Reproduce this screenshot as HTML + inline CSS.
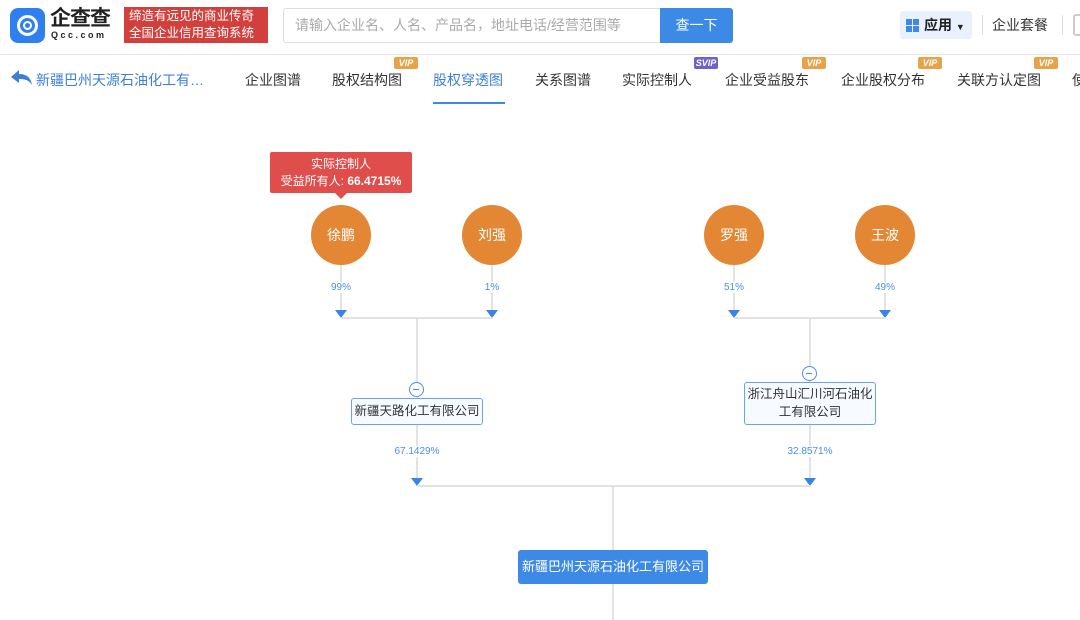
<!DOCTYPE html>
<html><head><meta charset="utf-8"><style>
*{margin:0;padding:0;box-sizing:border-box}
body{width:1080px;height:620px;overflow:hidden;background:#fff;font-family:"Liberation Sans","Noto Sans CJK SC",sans-serif;position:relative;color:#333}
.a{position:absolute}
.nav{position:absolute;top:70px;font-size:14px;color:#333;white-space:nowrap}
.vip{position:absolute;top:57px;width:24px;height:12px;background:#e8a34a;color:#fff;font-size:9px;font-weight:bold;font-style:italic;text-align:center;line-height:12px;border-radius:2px}
.c{position:absolute;width:60px;height:60px;border-radius:50%;background:#e38734;color:#fff;font-size:14px;text-align:center;line-height:60px}
.l{position:absolute;background:#e3e3e3}
.p{position:absolute;font-size:10px;color:#4a8ee8;width:80px;text-align:center}
.t{position:absolute;width:0;height:0;border-left:6px solid transparent;border-right:6px solid transparent;border-top:8px solid #3a85e4}
.m{position:absolute;width:15px;height:15px;border:1.5px solid #4a8ee8;border-radius:50%;background:#fff}
.m:after{content:"";position:absolute;left:3px;top:5.5px;width:6px;height:1.5px;background:#4a8ee8}
.b{position:absolute;border:1.5px solid #6aa3ee;border-radius:3px;background:#f7faff;font-size:12.5px;color:#333;text-align:center;white-space:nowrap}
</style></head><body>
<div class="a" style="left:10px;top:8px;width:35px;height:35px;border-radius:8px;background:#2f7ff0"></div>
<div class="a" style="left:17px;top:15px;width:21px;height:21px;border-radius:50%;border:3px solid #fff"></div>
<div class="a" style="left:23px;top:21px;width:9px;height:9px;border-radius:50%;border:2px solid #fff"></div>
<div class="a" style="left:50px;top:7px;font-size:21px;font-weight:bold;color:#222;letter-spacing:-1px;line-height:24px">企查查</div>
<div class="a" style="left:51px;top:30px;font-size:9px;font-weight:bold;color:#222;letter-spacing:2.5px;line-height:11px">Qcc.com</div>
<div class="a" style="left:124px;top:7px;width:144px;height:36px;background:#d2403e;color:#fff;font-size:12.5px;line-height:17px;padding-left:5px;padding-top:1px;white-space:nowrap">缔造有远见的商业传奇<br>全国企业信用查询系统</div>
<div class="a" style="left:283px;top:8px;width:380px;height:35px;border:1px solid #ddd;border-radius:3px;font-size:14px;color:#aaa;line-height:33px;padding-left:11px">请输入企业名、人名、产品名，地址电话/经营范围等</div>
<div class="a" style="left:660px;top:8px;width:73px;height:35px;background:#3d8ae6;border-radius:0 3px 3px 0;color:#fff;font-size:14px;text-align:center;line-height:35px">查一下</div>
<div class="a" style="left:900px;top:11px;width:72px;height:28px;background:#e8f1fd;border-radius:3px"></div>
<div class="a" style="left:906px;top:19px;width:13px;height:13px;background:linear-gradient(#e8f1fd,#e8f1fd) 6px 0/1px 13px no-repeat,linear-gradient(#e8f1fd,#e8f1fd) 0 6px/13px 1px no-repeat,#3d8ae6"></div>
<div class="a" style="left:924px;top:15px;font-size:14px;font-weight:bold;color:#222">应用 <span style="font-size:9px">▼</span></div>
<div class="a" style="left:982px;top:15px;width:1px;height:20px;background:#ddd"></div>
<div class="a" style="left:992px;top:15px;font-size:14px;color:#333">企业套餐</div>
<div class="a" style="left:1062px;top:15px;width:1px;height:20px;background:#ddd"></div>
<div class="a" style="left:1073px;top:14px;width:10px;height:22px;border:2px solid #ccc;border-radius:3px"></div>
<div class="a" style="left:0;top:54px;width:1080px;height:1px;background:#e6e6e6"></div>
<svg class="a" style="left:11px;top:70px" width="22" height="16" viewBox="0 0 22 16"><path d="M0 7 L8 0 L8 4 C16 4 20 8 21 15 C18 10 14 9 8 9 L8 13 Z" fill="#3d7fd8"/></svg>
<div class="nav" style="left:36px;color:#3d7fd8">新疆巴州天源石油化工有…</div>
<div class="nav" style="left:245px">企业图谱</div>
<div class="nav" style="left:332px">股权结构图</div><div class="vip" style="left:394px">VIP</div>
<div class="nav" style="left:433px;color:#3d7fd8">股权穿透图</div>
<div class="a" style="left:433px;top:102px;width:72px;height:2px;background:#3d8ae6"></div>
<div class="nav" style="left:535px">关系图谱</div>
<div class="nav" style="left:622px">实际控制人</div><div class="vip" style="left:694px;background:#6b63c9">SVIP</div>
<div class="nav" style="left:725px">企业受益股东</div><div class="vip" style="left:802px">VIP</div>
<div class="nav" style="left:841px">企业股权分布</div><div class="vip" style="left:918px">VIP</div>
<div class="nav" style="left:957px">关联方认定图</div><div class="vip" style="left:1034px">VIP</div>
<div class="nav" style="left:1072px">使</div>

<div class="a" style="left:270px;top:152px;width:142px;height:41px;background:#df4e4b;border-radius:2px;color:#fff;font-size:12px;text-align:center;line-height:17px;padding-top:4px;white-space:nowrap">实际控制人<br>受益所有人: <b>66.4715%</b></div>
<div class="a" style="left:335px;top:193px;border-left:6px solid transparent;border-right:6px solid transparent;border-top:6px solid #df4e4b"></div>

<div class="l" style="left:340px;top:265px;width:2px;height:48px"></div>
<div class="l" style="left:491px;top:265px;width:2px;height:48px"></div>
<div class="l" style="left:733px;top:265px;width:2px;height:48px"></div>
<div class="l" style="left:884px;top:265px;width:2px;height:48px"></div>
<div class="c" style="left:311px;top:205px">徐鹏</div>
<div class="c" style="left:462px;top:205px">刘强</div>
<div class="c" style="left:704px;top:205px">罗强</div>
<div class="c" style="left:855px;top:205px">王波</div>
<div class="p" style="left:301px;top:282px"><span style="background:#fff">99%</span></div>
<div class="p" style="left:452px;top:282px"><span style="background:#fff">1%</span></div>
<div class="p" style="left:694px;top:282px"><span style="background:#fff">51%</span></div>
<div class="p" style="left:845px;top:282px"><span style="background:#fff">49%</span></div>
<div class="t" style="left:335px;top:310px"></div>
<div class="t" style="left:486px;top:310px"></div>
<div class="t" style="left:728px;top:310px"></div>
<div class="t" style="left:879px;top:310px"></div>
<div class="l" style="left:341px;top:317px;width:152px;height:2px"></div>
<div class="l" style="left:734px;top:317px;width:152px;height:2px"></div>
<div class="l" style="left:416px;top:318px;width:2px;height:80px"></div>
<div class="l" style="left:809px;top:318px;width:2px;height:64px"></div>
<div class="m" style="left:409px;top:382px"></div>
<div class="m" style="left:802px;top:366px"></div>
<div class="b" style="left:351px;top:398px;width:132px;height:27px;line-height:24px">新疆天路化工有限公司</div>
<div class="b" style="left:744px;top:382px;width:132px;height:43px;line-height:18px;padding-top:2px">浙江舟山汇川河石油化<br>工有限公司</div>
<div class="l" style="left:416px;top:425px;width:2px;height:55px"></div>
<div class="l" style="left:809px;top:425px;width:2px;height:55px"></div>
<div class="p" style="left:377px;top:446px"><span style="background:#fff">67.1429%</span></div>
<div class="p" style="left:770px;top:446px"><span style="background:#fff">32.8571%</span></div>
<div class="t" style="left:411px;top:478px"></div>
<div class="t" style="left:804px;top:478px"></div>
<div class="l" style="left:417px;top:485px;width:394px;height:2px"></div>
<div class="l" style="left:612px;top:486px;width:2px;height:134px"></div>
<div class="a" style="left:518px;top:550px;width:190px;height:34px;background:#3d8ae6;border-radius:3px;color:#fff;font-size:13px;text-align:center;line-height:34px;white-space:nowrap">新疆巴州天源石油化工有限公司</div>
</body></html>
